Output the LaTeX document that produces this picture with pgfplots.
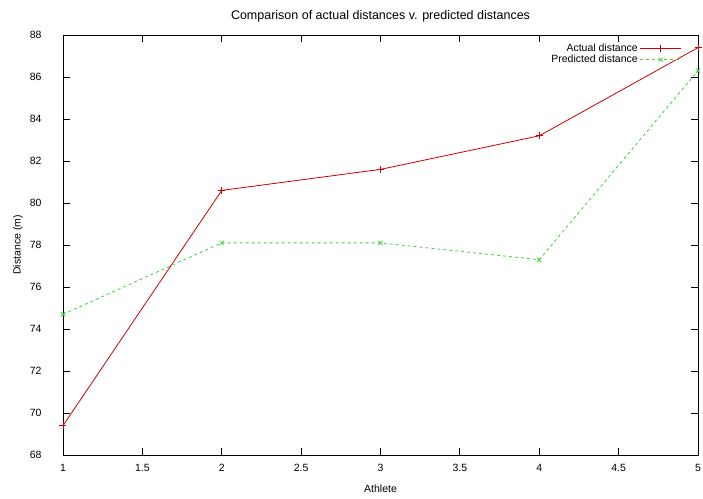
\documentclass[border=0pt]{standalone}
\usepackage{fontspec}
\setmainfont{Liberation Sans}
\usepackage{pgfplots}
\pgfplotsset{compat=1.18}
\definecolor{gpred}{RGB}{204,0,0}
\definecolor{gpgreen}{RGB}{60,210,60}
\begin{document}
\begin{tikzpicture}
\begin{axis}[
  scale only axis,
  width=635pt, height=420pt,
  xmin=1, xmax=5, ymin=68, ymax=88,
  xtick={1,1.5,...,5}, ytick={68,70,...,88},
  tick align=inside, major tick length=7pt,
  tick style={black, line width=0.8pt},
  axis line style={line width=0.8pt},
  /pgf/number format/assume math mode=true,
  tick label style={font=\fontsize{10.5}{12}\selectfont},
  yticklabel style={xshift=-18pt},
  xticklabel style={yshift=-6pt},
  label style={font=\fontsize{10.5}{12}\selectfont},
  ylabel style={yshift=0pt},
  xlabel style={yshift=-6pt},
  title style={font=\fontsize{12.5}{14}\selectfont, yshift=3pt},
  title={Comparison of actual distances v. predicted distances},
  xlabel={Athlete}, ylabel={Distance (m)},
  legend plot pos=right,
  legend cell align=right,
  legend style={at={(1,1)}, anchor=north east, draw=none, fill=none,
    font=\fontsize{10.5}{11}\selectfont, row sep=-2pt, inner sep=2pt,
    xshift=-14pt, yshift=-5pt},
  legend image code/.code={
    \draw[#1] (0cm,0cm) -- (1.45cm,0cm);
    \draw[#1, only marks] plot coordinates {(0.725cm,0cm)};
  },
]
\addplot[gpred, line width=0.8pt, mark=+, mark size=3.5pt, mark options={gpred}] coordinates {
  (1,69.4) (2,80.6) (3,81.6) (4,83.2) (5,87.4)};
\addplot[gpgreen, line width=0.8pt, dashed, mark=x, mark size=3pt, mark options={solid, gpgreen}] coordinates {
  (1,74.7) (2,78.1) (3,78.1) (4,77.3) (5,86.3)};
\legend{Actual distance, Predicted distance}
\end{axis}
\pgfresetboundingbox
\path[use as bounding box] ([shift={(-63pt,-44pt)}]current axis.south west)
  rectangle ([shift={(5pt,35pt)}]current axis.north east);
\end{tikzpicture}
\end{document}
